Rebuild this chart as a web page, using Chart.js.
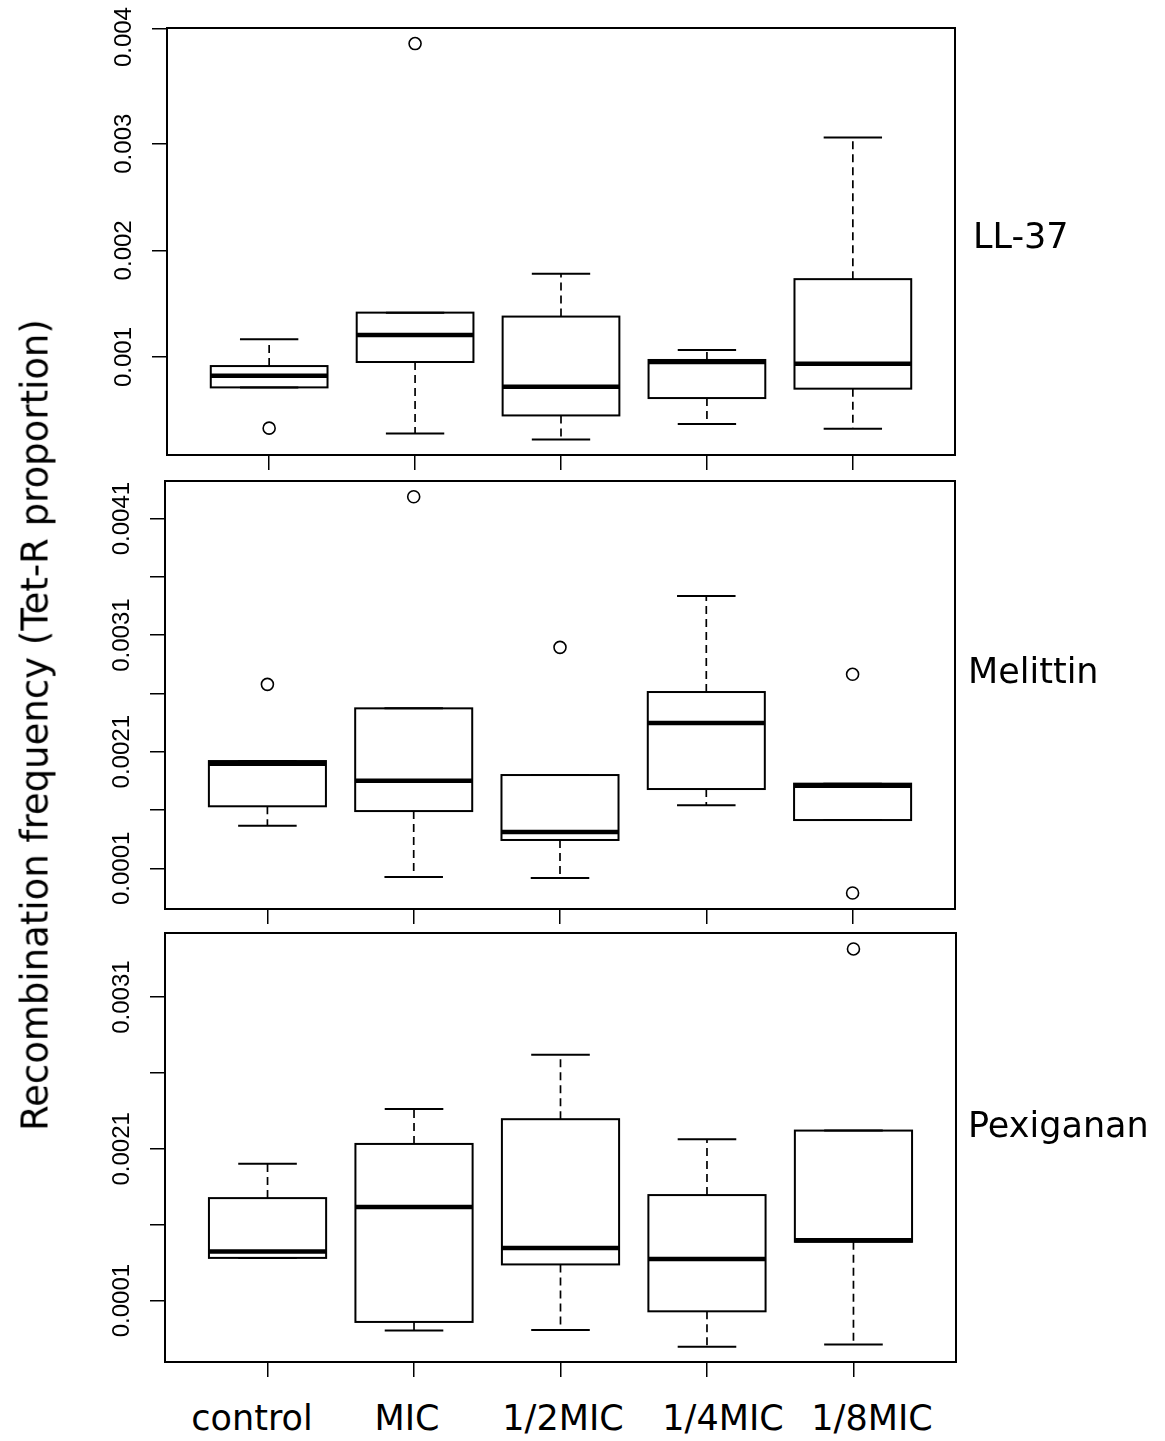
<!DOCTYPE html>
<html>
<head>
<meta charset="utf-8">
<script src="https://cdn.jsdelivr.net/npm/chart.js@4.4.0/dist/chart.umd.min.js"></script>
<style>
  html, body { margin: 0; padding: 0; background: #fff; }
  #page { position: relative; width: 1165px; height: 1441px; overflow: hidden;
          font-family: "DejaVu Sans", sans-serif; color: #000; }
  canvas { position: absolute; left: 0; }
  .lab { position: absolute; font-size: 35px; line-height: 35px; white-space: nowrap; }
  .grp { position: absolute; top: 1401px; font-size: 35px; line-height: 35px;
         white-space: nowrap; transform: translateX(-50%); }
  #ytitle { position: absolute; left: 35px; top: 725px; font-size: 37px; line-height: 37px;
            white-space: nowrap; transform: translate(-50%, -50%) rotate(-90deg); }
</style>
</head>
<body>
<div id="page">
  <canvas id="c1"></canvas>
  <canvas id="c2"></canvas>
  <canvas id="c3"></canvas>
  <div class="lab" style="left:973px; top:219px;">LL-37</div>
  <div class="lab" style="left:968px; top:654px;">Melittin</div>
  <div class="lab" style="left:968px; top:1108px;">Pexiganan</div>
  <div id="ytitle">Recombination frequency (Tet-R proportion)</div>
  <div id="groups"></div>
</div>
<script>
  'use strict';

  // Treatments, in box order.
  const GROUPS = ['control', 'MIC', '1/2MIC', '1/4MIC', '1/8MIC'];
  const POS = [1, 2, 3, 4, 5];

  // LL-37: whisker ends, quartiles, medians, outliers.
  const LL_LO  = [0.000715, 0.000283, 0.000227, 0.000371, 0.000327];
  const LL_Q1  = [0.000715, 0.000953, 0.000452, 0.000615, 0.000703];
  const LL_MED = [0.000825, 0.001207, 0.000721, 0.000953, 0.000937];
  const LL_Q3  = [0.000915, 0.001416, 0.001379, 0.000972, 0.001730];
  const LL_HI  = [0.001166, 0.001416, 0.001780, 0.001066, 0.003059];
  const LL_OUT = [[0.000333], [0.003939], [], [], []];
  const LL_RANGE = [0.000081, 0.004085];
  const LL_TICKS = [0.001, 0.002, 0.003, 0.00408];
  const LL_LABEL_AT = [0.001, 0.002, 0.003, 0.004];
  const LL_LABELS = ['0.001', '0.002', '0.003', '0.004'];

  // Melittin
  const MEL_LO  = [0.001465, 0.001025, 0.001017, 0.001640, 0.001514];
  const MEL_Q1  = [0.001632, 0.001591, 0.001343, 0.001780, 0.001514];
  const MEL_MED = [0.001997, 0.001851, 0.001411, 0.002346, 0.001808];
  const MEL_Q3  = [0.002020, 0.002472, 0.001900, 0.002612, 0.001826];
  const MEL_HI  = [0.002020, 0.002472, 0.001900, 0.003435, 0.001826];
  const MEL_OUT = [[0.002678], [0.004287], [0.002995], [], [0.002764, 0.000888]];
  const MEL_RANGE = [0.000751, 0.004422];
  const MEL_TICKS = [0.0011, 0.0016, 0.0021, 0.0026, 0.0031, 0.0036, 0.0041];
  const MEL_LABEL_AT = [0.0011, 0.0021, 0.0031, 0.0041];
  const MEL_LABELS = ['0.0001', '0.0021', '0.0031', '0.0041'];

  // Pexiganan
  const PEX_LO  = [0.001381, 0.000902, 0.000906, 0.000796, 0.000810];
  const PEX_Q1  = [0.001381, 0.000959, 0.001338, 0.001029, 0.001487];
  const PEX_MED = [0.001423, 0.001716, 0.001447, 0.001373, 0.001498];
  const PEX_Q3  = [0.001775, 0.002132, 0.002295, 0.001795, 0.002220];
  const PEX_HI  = [0.002002, 0.002363, 0.002719, 0.002163, 0.002220];
  const PEX_OUT = [[], [], [], [], [0.003417]];
  const PEX_RANGE = [0.000695, 0.003522];
  const PEX_TICKS = [0.0011, 0.0016, 0.0021, 0.0026, 0.0031];
  const PEX_LABEL_AT = [0.0011, 0.0021, 0.0031];
  const PEX_LABELS = ['0.0001', '0.0021', '0.0031'];

  // Canvas placement of each panel (page pixels).
  const FRAMES = [
    { id: 'c1', top: 0,   h: 480, area: { top: 28,  bottom: 455,  left: 167, right: 955 } },
    { id: 'c2', top: 470, h: 460, area: { top: 481, bottom: 909,  left: 165, right: 955 } },
    { id: 'c3', top: 920, h: 470, area: { top: 933, bottom: 1362, left: 165, right: 956 } },
  ];
  const TICK_LEN = 15;

  // Box outlines, whiskers, caps, medians, frame and rotated y labels (R boxplot look).
  function boxPlugin(d) {
    return {
      id: 'rbox',
      afterDatasetsDraw(chart) {
        const ctx = chart.ctx;
        const ys = chart.scales.y;
        const a = chart.chartArea;
        const bars = chart.getDatasetMeta(0).data;
        const line = (x1, y1, x2, y2) => {
          ctx.beginPath(); ctx.moveTo(x1, y1); ctx.lineTo(x2, y2); ctx.stroke();
        };
        ctx.save();
        ctx.strokeStyle = '#000';
        ctx.lineCap = 'butt';
        bars.forEach((bar, i) => {
          const cx = bar.x, half = bar.width / 2;
          const lo = ys.getPixelForValue(d.lo[i]);
          const q1 = ys.getPixelForValue(d.q1[i]);
          const med = ys.getPixelForValue(d.med[i]);
          const q3 = ys.getPixelForValue(d.q3[i]);
          const hi = ys.getPixelForValue(d.hi[i]);
          ctx.lineWidth = 1.7;
          ctx.setLineDash([8, 5]);
          if (hi < q3 - 1) line(cx, q3, cx, hi);
          if (lo > q1 + 1) line(cx, q1, cx, lo);
          ctx.setLineDash([]);
          ctx.lineWidth = 2;
          line(cx - half / 2, hi, cx + half / 2, hi);
          line(cx - half / 2, lo, cx + half / 2, lo);
          ctx.strokeRect(cx - half, Math.min(bar.y, bar.base), bar.width, Math.abs(bar.base - bar.y));
          ctx.lineWidth = 4.5;
          line(cx - half, med, cx + half, med);
        });
        ctx.lineWidth = 2;
        ctx.strokeRect(a.left, a.top, a.right - a.left, a.bottom - a.top);

        ctx.fillStyle = '#000';
        ctx.font = '24px "Liberation Sans", Arial, sans-serif';
        ctx.textAlign = 'center';
        ctx.textBaseline = 'alphabetic';
        d.labelAt.forEach((v, k) => {
          ctx.save();
          ctx.translate(a.left - 45, ys.getPixelForValue(v));
          ctx.rotate(-Math.PI / 2);
          ctx.fillText(d.labels[k], 0, 8.6);
          ctx.restore();
        });
        ctx.restore();
      },
    };
  }

  function boxPanel(frame, d) {
    const canvas = document.getElementById(frame.id);
    canvas.width = 1165;
    canvas.height = frame.h;
    canvas.style.top = frame.top + 'px';
    const a = frame.area;

    const boxes = POS.map((x, i) => ({ x, y: [d.q1[i], d.q3[i]] }));
    const outliers = [];
    d.out.forEach((vals, i) => vals.forEach(v => outliers.push({ x: POS[i], y: v })));

    const axisGrid = { drawOnChartArea: false, drawTicks: true, tickLength: TICK_LEN,
                       color: '#000', lineWidth: 1.5, offset: false };

    return new Chart(canvas, {
      type: 'bar',
      data: {
        datasets: [
          {
            type: 'bar',
            data: boxes,
            backgroundColor: '#fff',
            borderWidth: 0,
            barPercentage: 0.8,
            categoryPercentage: 1,
          },
          {
            type: 'scatter',
            data: outliers,
            pointStyle: 'circle',
            pointRadius: 6,
            borderWidth: 1.6,
            borderColor: '#000',
            backgroundColor: 'rgba(0,0,0,0)',
          },
        ],
      },
      options: {
        responsive: false,
        animation: false,
        events: [],
        layout: {
          padding: {
            top: a.top - frame.top,
            bottom: frame.top + frame.h - a.bottom - TICK_LEN,
            left: a.left - TICK_LEN,
            right: 1165 - a.right,
          },
        },
        plugins: { legend: { display: false }, tooltip: { enabled: false } },
        scales: {
          x: {
            type: 'linear', min: 0.3, max: 5.7, offset: false, bounds: 'data',
            afterBuildTicks: s => { s.ticks = POS.map(v => ({ value: v })); },
            afterFit: s => { s.height = TICK_LEN; },
            ticks: { display: false },
            grid: axisGrid,
            border: { display: false },
          },
          y: {
            type: 'linear', min: d.range[0], max: d.range[1], bounds: 'data',
            afterBuildTicks: s => { s.ticks = d.ticks.map(v => ({ value: v })); },
            afterFit: s => { s.width = TICK_LEN; },
            ticks: { display: false },
            grid: axisGrid,
            border: { display: false },
          },
        },
      },
      plugins: [boxPlugin(d)],
    });
  }

  boxPanel(FRAMES[0], { lo: LL_LO, q1: LL_Q1, med: LL_MED, q3: LL_Q3, hi: LL_HI, out: LL_OUT,
    range: LL_RANGE, ticks: LL_TICKS, labelAt: LL_LABEL_AT, labels: LL_LABELS });
  boxPanel(FRAMES[1], { lo: MEL_LO, q1: MEL_Q1, med: MEL_MED, q3: MEL_Q3, hi: MEL_HI, out: MEL_OUT,
    range: MEL_RANGE, ticks: MEL_TICKS, labelAt: MEL_LABEL_AT, labels: MEL_LABELS });
  boxPanel(FRAMES[2], { lo: PEX_LO, q1: PEX_Q1, med: PEX_MED, q3: PEX_Q3, hi: PEX_HI, out: PEX_OUT,
    range: PEX_RANGE, ticks: PEX_TICKS, labelAt: PEX_LABEL_AT, labels: PEX_LABELS });

  // Group names under the bottom panel, set like a single spaced margin text.
  const GROUP_CENTERS = [252, 407, 563, 723, 872];
  const groupsEl = document.getElementById('groups');
  GROUPS.forEach((g, i) => {
    const s = document.createElement('div');
    s.className = 'grp';
    s.style.left = GROUP_CENTERS[i] + 'px';
    s.textContent = g;
    groupsEl.appendChild(s);
  });
</script>
</body>
</html>
